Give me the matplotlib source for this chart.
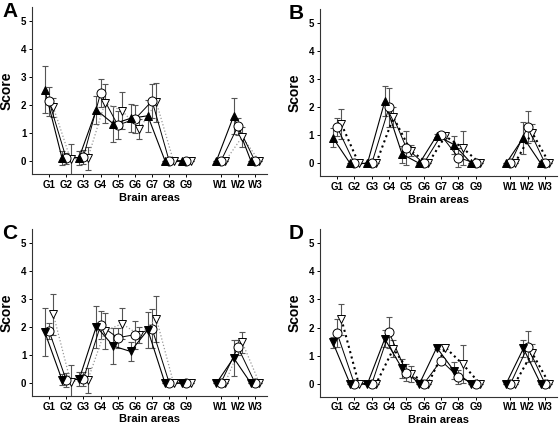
import matplotlib
matplotlib.use("Agg")
import matplotlib.pyplot as plt
import numpy as np

plt.rcParams['font.family'] = ['Liberation Sans', 'DejaVu Sans']

areas = ["G1", "G2", "G3", "G4", "G5", "G6", "G7", "G8", "G9", "W1", "W2", "W3"]
area_pos = [1, 2, 3, 4, 5, 6, 7, 8, 9, 11, 12, 13]

# panel A
a_tri = [2.55, 0.12, 0.13, 1.83, 1.33, 1.53, 1.62, 0.02, 0.02, 0.02, 1.61, 0.02]
a_tri_err = [0.83, 0.25, 0.25, 0.5, 0.65, 0.5, 0.58, 0, 0, 0, 0.65, 0]
a_circ = [2.13, 0.1, 0.15, 2.43, 1.29, 1.5, 2.15, 0, 0, 0, 1.25, 0]
a_circ_err = [0.5, 0.2, 0.25, 0.5, 0.5, 0.5, 0.6, 0, 0, 0, 0.3, 0]
a_open = [1.92, 0.07, 0.1, 2.07, 1.8, 1.14, 2.1, 0, 0, 0, 0.87, 0]
a_open_err = [0.35, 0.55, 0.42, 0.7, 0.65, 0.35, 0.7, 0, 0, 0, 0.35, 0]

# panel B
b_tri = [0.92, 0, 0, 2.21, 0.33, 0, 0.99, 0.67, 0, 0, 0.92, 0]
b_tri_err = [0.33, 0, 0, 0.53, 0.3, 0, 0.05, 0.32, 0, 0, 0.57, 0]
b_circ = [1.29, 0, 0, 2.0, 0.55, 0, 1.0, 0.21, 0, 0, 1.31, 0]
b_circ_err = [0.33, 0, 0, 0.7, 0.6, 0, 0.05, 0.35, 0, 0, 0.57, 0]
b_open = [1.4, 0, 0, 1.64, 0.45, 0, 0.97, 0.55, 0, 0, 1.1, 0]
b_open_err = [0.54, 0, 0, 0.36, 0.2, 0, 0.05, 0.6, 0, 0, 0.3, 0]

# panel C
c_tri = [1.82, 0.12, 0.13, 2.02, 1.32, 1.13, 1.9, 0, 0, 0, 0.9, 0]
c_tri_err = [0.85, 0.2, 0.25, 0.75, 0.65, 0.33, 0.65, 0, 0, 0, 0.65, 0]
c_circ = [1.86, 0.1, 0.15, 2.06, 1.62, 1.73, 1.94, 0, 0, 0, 1.28, 0]
c_circ_err = [0.3, 0.25, 0.25, 0.5, 0.35, 0.5, 0.7, 0, 0, 0, 0.27, 0]
c_open = [2.45, 0.05, 0.1, 1.86, 2.12, 1.72, 2.3, 0, 0, 0, 1.46, 0]
c_open_err = [0.72, 0.6, 0.45, 0.65, 0.55, 0.3, 0.82, 0, 0, 0, 0.38, 0]

# panel D
d_tri = [1.48, 0, 0, 1.6, 0.55, 0, 1.29, 0.46, 0, 0, 1.26, 0]
d_tri_err = [0.2, 0, 0, 0.3, 0.35, 0, 0.05, 0.3, 0, 0, 0.3, 0]
d_circ = [1.8, 0, 0, 1.83, 0.4, 0, 0.83, 0.24, 0, 0, 1.32, 0]
d_circ_err = [0.5, 0, 0, 0.55, 0.3, 0, 0.05, 0.25, 0, 0, 0.55, 0]
d_open = [2.3, 0, 0, 1.25, 0.35, 0, 1.29, 0.7, 0, 0, 1.1, 0]
d_open_err = [0.55, 0, 0, 0.3, 0.3, 0, 0.05, 0.68, 0, 0, 0.3, 0]

panels = [
    ("A", [0.057, 0.594, 0.420, 0.390], a_tri, a_tri_err, a_circ, a_circ_err, a_open, a_open_err, "^", False),
    ("B", [0.571, 0.589, 0.424, 0.390], b_tri, b_tri_err, b_circ, b_circ_err, b_open, b_open_err, "^", True),
    ("C", [0.057, 0.077, 0.420, 0.389], c_tri, c_tri_err, c_circ, c_circ_err, c_open, c_open_err, "v", False),
    ("D", [0.571, 0.075, 0.424, 0.391], d_tri, d_tri_err, d_circ, d_circ_err, d_open, d_open_err, "v", True),
]

fig = plt.figure(figsize=(5.6, 4.29), dpi=100)
x = np.array(area_pos, dtype=float)
off = 0.25
err_col = "#555555"


def draw_series(ax, xs, ys, es, marker, mfc, ls, lc, lw, ms=6):
    xs = np.asarray(xs)
    ys = np.asarray(ys)
    es = np.asarray(es)
    ax.errorbar(xs, ys, yerr=es, fmt="none", ecolor=err_col, elinewidth=0.8,
                capsize=2.5, capthick=0.8, zorder=2)
    # G areas and W areas are separate line segments
    for sl in (slice(0, 9), slice(9, 12)):
        ax.plot(xs[sl], ys[sl], linestyle=ls, color=lc, linewidth=lw, zorder=3)
    ax.plot(xs, ys, linestyle="none", marker=marker, markersize=ms,
            markerfacecolor=mfc, markeredgecolor="black", markeredgewidth=0.7, zorder=4)


for letter, rect, tri, tri_e, circ, circ_e, opn, opn_e, tri_marker, dark_dots in panels:
    ax = fig.add_axes(rect)
    if dark_dots:
        draw_series(ax, x + off, opn, opn_e, "v", "white", ":", "black", 1.5)
    else:
        draw_series(ax, x + off, opn, opn_e, "v", "white", ":", "#999999", 0.9)
    draw_series(ax, x, circ, circ_e, "o", "white", "-", "black", 0.7, ms=6.5)
    draw_series(ax, x - off, tri, tri_e, tri_marker, "black", "-", "black", 0.8)

    ax.set_xlim(0, 13.7)
    ax.set_ylim(-0.46, 5.5)
    ax.set_yticks([0, 1, 2, 3, 4, 5])
    ax.set_xticks(area_pos)
    ax.set_xticklabels(areas, fontsize=7, fontweight="bold")
    ax.set_yticklabels(["0", "1", "2", "3", "4", "5"], fontsize=7, fontweight="bold")
    ax.tick_params(direction="out", length=2, width=0.7, pad=2)
    for s in ("top", "right"):
        ax.spines[s].set_visible(False)
    for s in ("left", "bottom"):
        ax.spines[s].set_linewidth(0.8)
        ax.spines[s].set_color("#333333")
    ax.set_ylabel("Score", fontsize=10, fontweight="bold")
    ax.yaxis.set_label_coords(-0.078, 0.5)
    ax.set_xlabel("Brain areas", fontsize=8, fontweight="bold", labelpad=2)
    pos = ax.get_position()
    fig.text(0.004 + (0 if letter in "AC" else 0.511), pos.y1 + 0.012, letter,
             fontsize=15, fontweight="bold", va="top", ha="left")

fig.savefig("out.png", dpi=100)
